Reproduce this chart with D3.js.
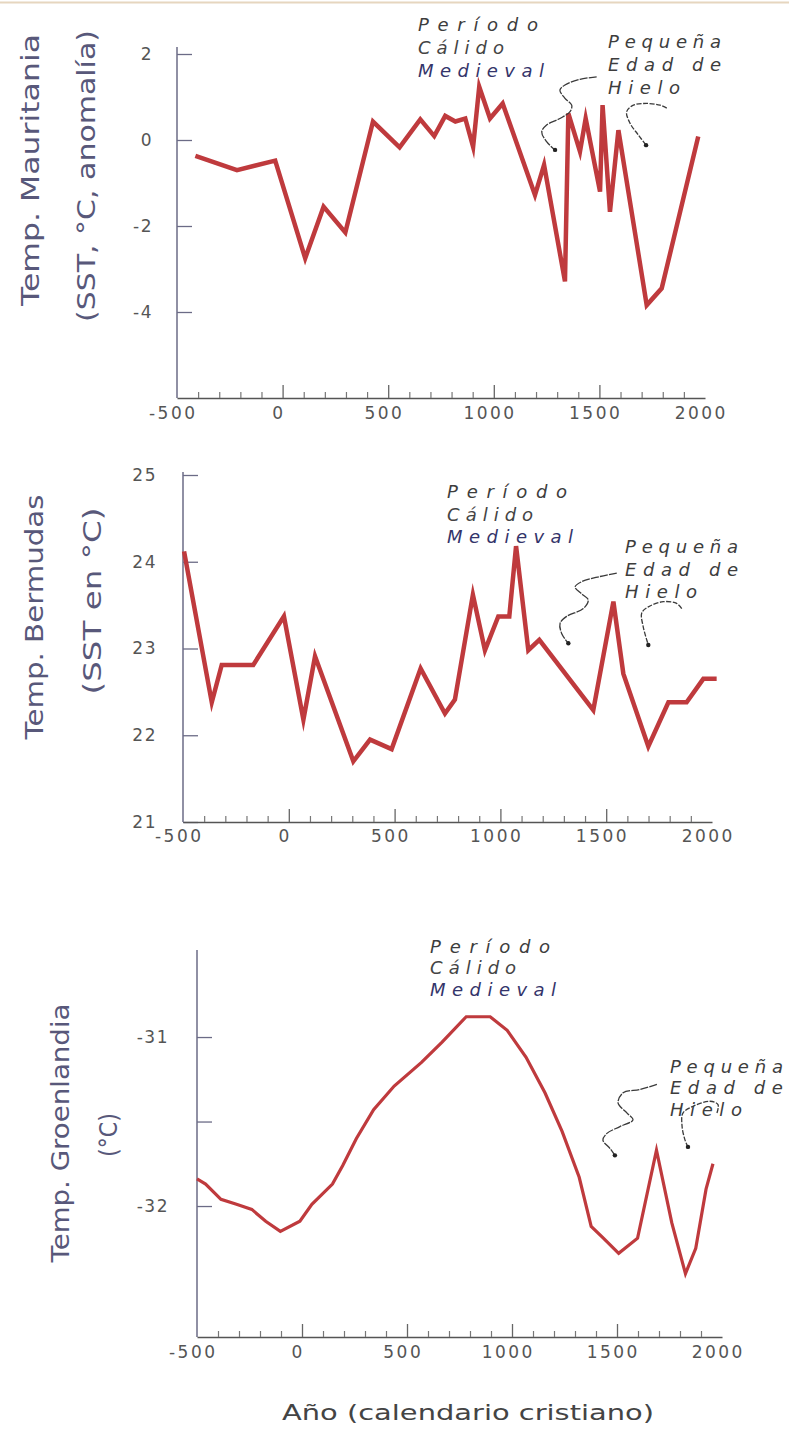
<!DOCTYPE html>
<html><head><meta charset="utf-8">
<script src="https://cdn.jsdelivr.net/npm/d3@7/dist/d3.min.js"></script>
<style>body{margin:0;background:#fff}svg{display:block}</style>
</head><body>
<svg id="c" width="789" height="1439"></svg>
<script>
// ---------- data ----------
const yearTicks = [-500, 0, 500, 1000, 1500, 2000];
const majorYears = [0, 500, 1000, 1500];
const minorYears = [-400,-300,-200,-100,100,200,300,400,600,700,800,900,1100,1200,1300,1400,1600,1700,1800,1900];

const mauritaniaYears  = [-413,-216,-35,107,194,297,428,554,652,718,770,818,865,902,931,982,1042,1195,1238,1337,1353,1408,1435,1503,1515,1550,1590,1724,1795,1968];
const mauritaniaValues = [-0.37,-0.70,-0.48,-2.75,-1.55,-2.15,0.43,-0.17,0.48,0.09,0.56,0.43,0.50,-0.16,1.24,0.50,0.85,-1.28,-0.58,-3.29,0.62,-0.27,0.50,-1.20,0.81,-1.67,0.23,-3.84,-3.45,0.08];
const mauritaniaTicks = [2, 0, -2, -4];
const mauritaniaTickLabels = ["2", "0", "-2", "-4"];

const bermudaYears  = [-495,-364,-317,-168,-23,69,124,305,384,486,623,738,785,870,927,990,1042,1074,1132,1184,1439,1534,1581,1699,1794,1880,1959,2022];
const bermudaValues = [24.12,22.38,22.81,22.81,23.37,22.18,22.91,21.70,21.95,21.84,22.77,22.25,22.41,23.62,22.98,23.37,23.37,24.18,22.98,23.10,22.29,23.54,22.71,21.87,22.38,22.38,22.65,22.65];
const bermudaTicks = [25, 24, 23, 22, 21];
const bermudaTickLabels = ["25", "24", "23", "22", "21"];

const groenlandiaYears  = [-500,-459,-386,-312,-239,-173,-103,-10,47,145,194,259,341,439,569,667,782,896,977,1067,1157,1239,1320,1377,1435,1508,1598,1688,1761,1826,1875,1924,1957];
const groenlandiaValues = [-31.84,-31.87,-31.96,-31.99,-32.02,-32.09,-32.15,-32.09,-31.99,-31.87,-31.76,-31.60,-31.43,-31.29,-31.15,-31.03,-30.88,-30.88,-30.96,-31.12,-31.33,-31.56,-31.83,-32.12,-32.19,-32.28,-32.19,-31.67,-32.10,-32.40,-32.25,-31.90,-31.75];
const groenlandiaTicks = [-31, -31.5, -32];
const groenlandiaTickLabels = ["-31", "", "-32"];

const warmLabel = ["Período", "Cálido", "Medieval"];
const coldLabel = ["Pequeña", "Edad de", "Hielo"];
const xTitle = "Año (calendario cristiano)";

// annotation arrows as [year, value] pairs
const arrowsMauritania = [
  [[1487,1.47],[1408,1.41],[1337,1.28],[1313,1.16],[1337,0.97],[1369,0.81],[1361,0.66],[1313,0.50],[1250,0.35],[1227,0.19],[1250,-0.04],[1290,-0.23]],
  [[1819,0.74],[1787,0.81],[1724,0.85],[1661,0.81],[1629,0.66],[1645,0.39],[1684,0.12],[1721,-0.12]]
];
const arrowsBermuda = [
  [[1550,23.87],[1471,23.83],[1384,23.77],[1353,23.71],[1384,23.63],[1415,23.56],[1392,23.46],[1313,23.37],[1282,23.29],[1290,23.17],[1321,23.06]],
  [[1857,23.46],[1833,23.52],[1770,23.54],[1699,23.48],[1668,23.41],[1675,23.25],[1699,23.04]]
];
const arrowsGroenlandia = [
  [[1690,-31.28],[1610,-31.31],[1529,-31.33],[1505,-31.39],[1548,-31.45],[1576,-31.49],[1514,-31.53],[1452,-31.57],[1433,-31.61],[1467,-31.66],[1490,-31.70]],
  [[1976,-31.45],[1981,-31.40],[1943,-31.38],[1862,-31.41],[1814,-31.45],[1810,-31.53],[1824,-31.61],[1838,-31.65]]
];

// ---------- drawing ----------
const svg = d3.select("#c");
svg.append("rect").attr("width",789).attr("height",1439).attr("fill","#fff");
svg.append("line").attr("x1",0).attr("x2",789).attr("y1",2.5).attr("y2",2.5)
  .attr("stroke","#e6d6bf").attr("stroke-width",2);

const TICKFONT = "'DejaVu Sans', sans-serif";
const LINE = "#bf3a3d";

function drawPanel(cfg){
  const x = d3.scaleLinear().domain([-500, 2000]).range(cfg.xr);
  const y = d3.scaleLinear().domain(cfg.yd).range(cfg.yr);
  const g = svg.append("g");

  // y axis
  const ya = g.append("g").attr("transform", `translate(${cfg.xr[0]},0)`)
    .call(d3.axisLeft(y).tickValues(cfg.yTicks).tickFormat((d,i)=>cfg.yLabels[i])
      .tickSize(-15).tickPadding(cfg.yPad).tickSizeOuter(0));
  ya.select(".domain").remove();
  ya.selectAll(".tick line").attr("stroke","#6b6b86").attr("stroke-width",1.3);
  ya.selectAll(".tick text").attr("font-family",TICKFONT).attr("font-size",17)
    .attr("fill","#555").attr("letter-spacing",1.5);
  g.append("line").attr("x1",cfg.xr[0]).attr("x2",cfg.xr[0])
    .attr("y1",cfg.axisTop).attr("y2",cfg.yr[0])
    .attr("stroke","#6b6b86").attr("stroke-width",1.5);

  // x axis
  const base = cfg.yr[0];
  const xm = g.append("g").attr("transform",`translate(0,${base})`)
    .call(d3.axisBottom(x).tickValues(minorYears).tickSize(-6).tickFormat("").tickSizeOuter(0));
  xm.select(".domain").attr("stroke","#555").attr("stroke-width",1.5);
  xm.selectAll(".tick line").attr("stroke","#777").attr("stroke-width",1.2);
  const xM = g.append("g").attr("transform",`translate(0,${base})`)
    .call(d3.axisBottom(x).tickValues(majorYears).tickSize(-13).tickFormat("").tickSizeOuter(0));
  xM.select(".domain").remove();
  xM.selectAll(".tick line").attr("stroke","#666").attr("stroke-width",1.3);
  const xl = g.append("g").attr("transform",`translate(0,${base})`)
    .call(d3.axisBottom(x).tickValues(yearTicks).tickSize(0).tickPadding(cfg.xPad).tickFormat(d=>String(d)));
  xl.select(".domain").remove();
  xl.selectAll(".tick text").attr("font-family",TICKFONT).attr("font-size",17)
    .attr("fill","#555").attr("letter-spacing",2.5).attr("dx","-0.25em");

  // data line
  const data = cfg.years.map((yr,i)=>({year:yr, value:cfg.values[i]}));
  g.append("path").datum(data)
    .attr("d", d3.line().x(d=>x(d.year)).y(d=>y(d.value)))
    .attr("fill","none").attr("stroke",LINE).attr("stroke-width",cfg.lw)
    .attr("stroke-linejoin","miter").attr("stroke-miterlimit",6);

  // y title (two lines, rotated)
  cfg.titles.forEach(t=>{
    g.append("text").attr("transform",`translate(${t.x},${t.y}) rotate(-90)`)
      .attr("text-anchor","middle").attr("dy","0.36em")
      .attr("font-family","'DejaVu Sans', sans-serif").attr("font-size",25)
      .attr("fill","#58587a").attr("textLength",t.len).attr("lengthAdjust","spacingAndGlyphs")
      .text(t.text);
  });

  // annotations
  function block(lines, anchor, widths, step, colors){
    lines.forEach((s,i)=>{
      g.append("text").attr("x",x(anchor[0])).attr("y",y(anchor[1])+i*step)
        .attr("font-family","'DejaVu Sans', sans-serif").attr("font-style","italic")
        .attr("font-size",18).attr("fill",colors[i])
        .attr("textLength",widths[i]).attr("lengthAdjust","spacing").text(s);
    });
  }
  block(warmLabel, cfg.warm, [120,86,126], cfg.step, ["#3d3d3d","#444","#34346a"]);
  block(coldLabel, cfg.cold, [113,113,72], cfg.step, ["#3d3d3d","#3d3d3d","#3d3d3d"]);

  // arrows
  const al = d3.line().x(d=>x(d[0])).y(d=>y(d[1])).curve(d3.curveCatmullRom);
  cfg.arrows.forEach((a,k)=>{
    g.append("path").attr("d",al(a)).attr("fill","none")
      .attr("stroke","#3a3a3a").attr("stroke-width",1.3)
      .attr("stroke-dasharray", k===1 ? "5,1.5" : "8,1.2");
    const e = a[a.length-1];
    g.append("circle").attr("cx",x(e[0])).attr("cy",y(e[1])).attr("r",2.2).attr("fill","#222");
  });
  return {x,y,g};
}

drawPanel({
  xr:[177,705], yd:[-6,2], yr:[398,54], axisTop:47, yPad:24, xPad:9, lw:4.5,
  yTicks:mauritaniaTicks, yLabels:mauritaniaTickLabels,
  years:mauritaniaYears, values:mauritaniaValues,
  titles:[{text:"Temp. Mauritania",x:30,y:170,len:272},{text:"(SST, °C, anomalía)",x:86,y:176,len:292}],
  warm:[641,2.53], cold:[1541,2.14], step:23,
  arrows:arrowsMauritania
});
drawPanel({
  xr:[183,712], yd:[21,25], yr:[822,475], axisTop:472, yPad:26, xPad:8, lw:4.5,
  yTicks:bermudaTicks, yLabels:bermudaTickLabels,
  years:bermudaYears, values:bermudaValues,
  titles:[{text:"Temp. Bermudas",x:34,y:617,len:245},{text:"(SST en °C)",x:92,y:601,len:187}],
  warm:[748,24.73], cold:[1589,24.10], step:22.5,
  arrows:arrowsBermuda
});
drawPanel({
  xr:[197,722], yd:[-32.775,-30.485], yr:[1337,950], axisTop:950, yPad:28, xPad:9, lw:3.2,
  yTicks:groenlandiaTicks, yLabels:groenlandiaTickLabels,
  years:groenlandiaYears, values:groenlandiaValues,
  titles:[{text:"Temp. Groenlandia",x:60,y:1133,len:259},{text:"(°C)",x:108,y:1135,len:44}],
  warm:[610,-30.50], cold:[1752,-31.21], step:21.5,
  arrows:arrowsGroenlandia
});

svg.append("text").attr("x",468).attr("y",1420).attr("text-anchor","middle")
  .attr("font-family","'DejaVu Sans', sans-serif").attr("font-size",22)
  .attr("fill","#444").attr("textLength",372).attr("lengthAdjust","spacingAndGlyphs")
  .text(xTitle);
</script>
</body></html>
